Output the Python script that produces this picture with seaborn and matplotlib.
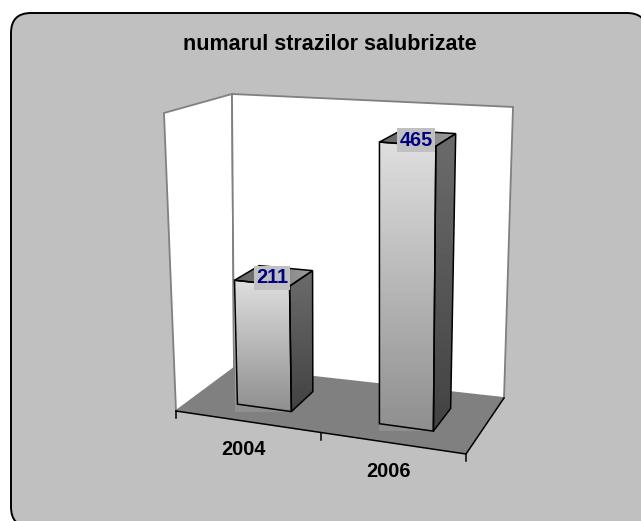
import numpy as np
import matplotlib
matplotlib.use("Agg")
import matplotlib.pyplot as plt
import matplotlib.transforms as mtransforms
from matplotlib.patches import Polygon, FancyBboxPatch
import seaborn as sns

# data
years = ["2004", "2006"]
values = [211, 465]
title = "numarul strazilor salubrizate"
VMAX = 500

plt.rcParams["font.family"] = ["Liberation Sans", "DejaVu Sans"]

W, H = 641, 521
# corners of the 3d box in image pixels (floor, then top of walls)
A, B, C, D = map(np.array, [(176, 411), (466, 454), (234, 368), (504, 398)])
A2, B2, C2, D2 = map(np.array, [(164, 113), (469, 137), (232, 94), (513, 107)])
ZF, ZB = 0.3, 0.72  # bar depth


def proj(x, v, z):
    f = ((np.asarray(x, float) + 0.5) / 2)[..., None]
    t = (np.asarray(v, float) / VMAX)[..., None]
    z = np.asarray(z, float)[..., None]

    def bil(p00, p10, p01, p11):
        return (1 - f) * (1 - z) * p00 + f * (1 - z) * p10 + (1 - f) * z * p01 + f * z * p11

    bot = bil(A, B, C, D)
    top = bil(A2, B2, C2, D2)
    return bot + t * (top - bot)


class Persp(mtransforms.Transform):
    input_dims = 2
    output_dims = 2
    is_separable = False
    has_inverse = False

    def __init__(self, z):
        super().__init__()
        self.z = z

    def transform_non_affine(self, values):
        values = np.asarray(values, float)
        return proj(values[:, 0], values[:, 1], np.full(len(values), self.z))


fig = plt.figure(figsize=(W / 100, H / 100), dpi=100)
ax = fig.add_axes([0, 0, 1, 1])

sns.barplot(x=years, y=values, ax=ax, width=0.38, color="#c0c0c0",
            edgecolor="black", linewidth=1.1, errorbar=None)

# background box
ax.add_patch(FancyBboxPatch((11, 13), 636, 514, boxstyle="round,pad=0,rounding_size=20",
                            facecolor="#c0c0c0", edgecolor="black", linewidth=1.4, zorder=0))


def face(pts, **kw):
    p = Polygon(pts, closed=True, **kw)
    ax.add_patch(p)
    return p


wall_kw = dict(facecolor="white", edgecolor="#808080", linewidth=1.3, zorder=1)
face(proj([-0.5, -0.5, -0.5, -0.5], [0, VMAX, VMAX, 0], [0, 0, 1, 1]), **wall_kw)
face(proj([-0.5, -0.5, 1.5, 1.5], [0, VMAX, VMAX, 0], [1, 1, 1, 1]), **wall_kw)
face(proj([-0.5, 1.5, 1.5, -0.5], [0, 0, 0, 0], [0, 0, 1, 1]), facecolor="#808080",
     edgecolor="none", zorder=1.5)
edge = proj([-0.5, 1.5, 1.5], [0, 0, 0], [1e-9, 0, 1])
ax.plot(edge[:, 0], edge[:, 1], color="black", lw=1.1, zorder=1.6)
for xt in [-0.5, 0.5, 1.5]:
    p0 = proj(xt, 0, 0)
    ax.plot([p0[0], p0[0]], [p0[1], p0[1] + 7], color="black", lw=1.1, zorder=1.6)


def gradient(patch, c_top, c_bot, horizontal=False):
    verts = patch.get_transform().transform(patch.get_path().vertices)
    verts = ax.transData.inverted().transform(verts)
    x0, x1 = verts[:, 0].min(), verts[:, 0].max()
    y0, y1 = verts[:, 1].min(), verts[:, 1].max()
    g = np.linspace(c_top, c_bot, 64)
    arr = g[None, :] if horizontal else g[:, None]
    im = ax.imshow(arr, cmap="gray", vmin=0, vmax=1, extent=(x0, x1, y1, y0),
                   aspect="auto", interpolation="bilinear", zorder=3)
    im.set_clip_path(patch)


for i, bar in enumerate(list(ax.patches[:len(values)])):
    x0 = bar.get_x()
    x1 = x0 + bar.get_width()
    h = bar.get_height()
    bar.set_transform(Persp(ZF) + ax.transData)
    bar.set_facecolor("none")
    bar.set_zorder(4)
    bar.set_clip_on(False)
    gradient(bar, 0.87, 0.56)

    side = face(proj([x1, x1, x1, x1], [0, h, h, 0], [ZF, ZF, ZB, ZB]),
                facecolor="none", edgecolor="black", linewidth=1.1, zorder=4)
    gradient(side, 0.42, 0.26)
    top = face(proj([x0, x1, x1, x0], [h, h, h, h], [ZF, ZF, ZB, ZB]),
               facecolor="none", edgecolor="black", linewidth=1.1, zorder=4)
    gradient(top, 0.38, 0.62, horizontal=True)

    lx, ly = proj((x0 + x1) / 2, h, (ZF + ZB) / 2)
    ax.text(lx - 2, ly + 2, str(values[i]), ha="center", va="center", fontsize=14.3,
            fontweight="bold", color="#000080", zorder=10,
            bbox=dict(boxstyle="square,pad=0.12", facecolor="#c0c0c0", edgecolor="none"))

    cx, cy = proj(i, 0, 0)
    ax.text(cx - 5, cy + 28, years[i], ha="center", va="center", fontsize=14.3,
            fontweight="bold", color="black", zorder=10)

ax.text(330, 45, title, ha="center", va="center", fontsize=15.5,
        fontweight="bold", color="black", zorder=10)

ax.set_xlim(0, W)
ax.set_ylim(H, 0)
ax.set_aspect("auto")
ax.axis("off")

fig.savefig("out.png", dpi=100, facecolor="white")
